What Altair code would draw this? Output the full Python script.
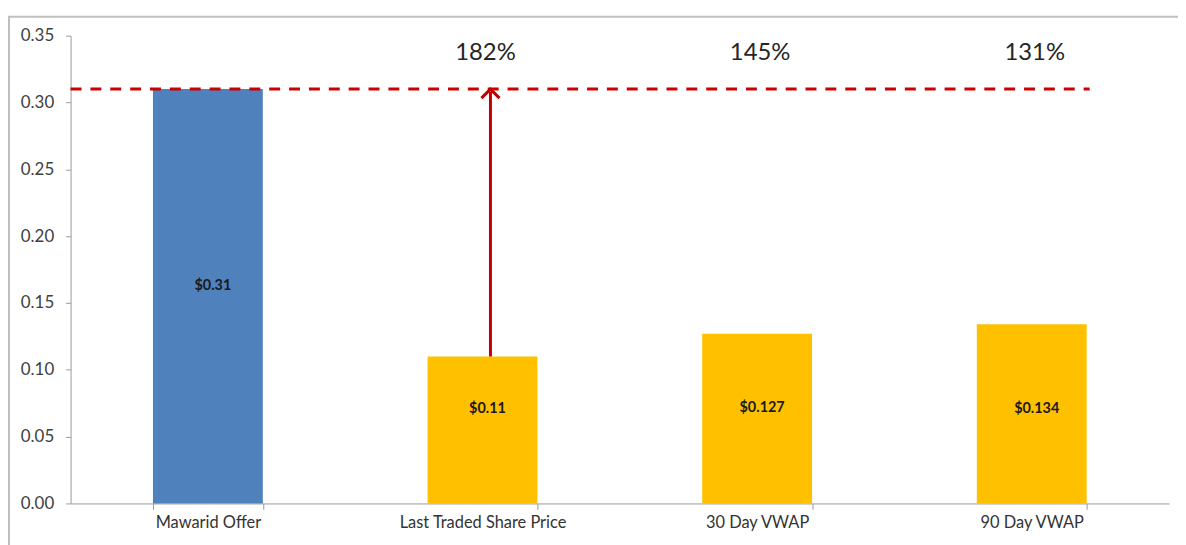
import altair as alt
import pandas as pd

categories = ["Mawarid Offer", "Last Traded Share Price", "30 Day VWAP", "90 Day VWAP"]
prices = [0.31, 0.11, 0.127, 0.134]
price_labels = ["$0.31", "$0.11", "$0.127", "$0.134"]
premiums = ["", "182%", "145%", "131%"]
label_levels = [0.163, 0.0705, 0.0715, 0.0705]
bar_colors = ["#4F81BD", "#FFC000", "#FFC000", "#FFC000"]
y_ticks = [0.0, 0.05, 0.10, 0.15, 0.20, 0.25, 0.30, 0.35]
offer_price = 0.31
arrow_from = "Last Traded Share Price"
premium_level = 0.337

df = pd.DataFrame({
    "cat": categories,
    "price": prices,
    "label": price_labels,
    "premium": premiums,
    "label_y": label_levels,
    "color": bar_colors,
})

FONT = "Lato"
AXIS_GRAY = "#9a9a9a"
P_INNER, P_OUTER = 0.6, 0.3
W, H = 1106, 471
STEP = W / len(categories)

xscale = alt.Scale(domain=categories, paddingInner=P_INNER, paddingOuter=P_OUTER)
yscale = alt.Scale(domain=[0, 0.35], nice=False, zero=True)

x_enc = alt.X(
    "cat:N", scale=xscale, sort=categories,
    axis=alt.Axis(title=None, labelAngle=0, tickBand="extent", tickSize=6,
                  tickColor=AXIS_GRAY, domainColor=AXIS_GRAY, labelFont=FONT,
                  labelFontSize=16.5, labelColor="#333333", labelPadding=5),
)
y_enc = alt.Y(
    "price:Q", scale=yscale,
    axis=alt.Axis(title=None, values=y_ticks, format=".2f", grid=False, tickSize=5,
                  tickColor=AXIS_GRAY, domainColor=AXIS_GRAY, labelFont=FONT,
                  labelFontSize=17, labelColor="#404040", labelPadding=12),
)

base = alt.Chart(df)

border = alt.Chart(pd.DataFrame({"k": [0]})).mark_rect(
    fillOpacity=0, stroke="#BFBFBF", strokeWidth=2
).encode(x=alt.value(-62), x2=alt.value(1400), y=alt.value(-19), y2=alt.value(800))

bars = base.mark_bar().encode(x=x_enc, y=y_enc, color=alt.Color("color:N", scale=None))

# dashed offer line: from the plot's left edge to the right edge of the last bar
offer_line = alt.Chart(pd.DataFrame({"y": [offer_price]})).mark_rule(
    color="#CC0000", strokeWidth=3, strokeDash=[11, 9],
    xOffset=-P_OUTER * STEP, x2Offset=3,
).encode(
    x=alt.X(datum=categories[0], bandPosition=0),
    x2=alt.X2(datum=categories[-1], bandPosition=1),
    y="y:Q",
)

arrow_src = base.transform_filter(alt.datum.cat == arrow_from)
arrow_shaft = arrow_src.mark_rule(color="#C00000", strokeWidth=3, xOffset=8).encode(
    x="cat:N", y="price:Q", y2=alt.datum(offer_price - 0.002)
)
arrow_head = arrow_src.mark_point(
    shape="M-1,1L0,0L1,1", size=330, filled=False, strokeWidth=3,
    color="#C00000", xOffset=8, opacity=1
).encode(x="cat:N", y=alt.datum(offer_price))

bar_text = base.mark_text(
    font=FONT, fontSize=14.5, fontWeight="bold", color="#1a1a1a", dx=5
).encode(x="cat:N", y="label_y:Q", text="label:N")

pct_text = base.transform_filter(alt.datum.premium != "").mark_text(
    font=FONT, fontSize=24, color="#262626", baseline="middle", dx=3
).encode(x="cat:N", y=alt.datum(premium_level), text="premium:N")

chart = alt.layer(
    border, bars, offer_line, arrow_shaft, arrow_head, bar_text, pct_text
).properties(
    width=W, height=H,
    autosize=alt.AutoSizeParams(type="none"),
    padding={"left": 63, "top": 26, "right": 9, "bottom": 40},
    background="white",
).configure_view(stroke=None)

chart.save("out.html", embed_options={"renderer": "svg", "actions": False})
